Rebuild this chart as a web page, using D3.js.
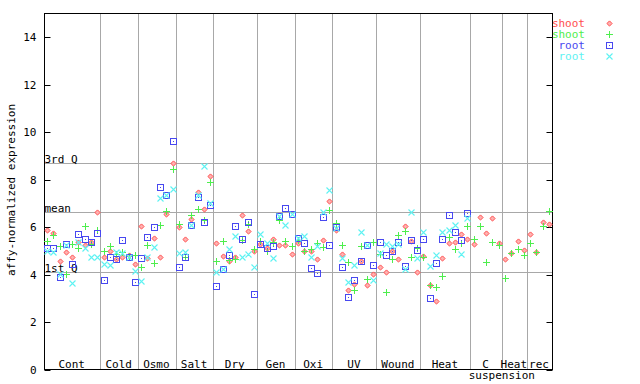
<!DOCTYPE html>
<html><head><meta charset="utf-8">
<script src="https://cdn.jsdelivr.net/npm/d3@7"></script>
<style>
body{margin:0;background:#fff;}
svg{display:block;}
text{font-family:"DejaVu Sans Mono",monospace;font-size:11px;}
</style>
</head><body>
<svg id="c" width="640" height="384"></svg>
<script>
// ---------- data ----------
const groups     = ["Cont","Cold","Osmo","Salt","Dry","Gen","Oxi","UV","Wound","Heat","C","Heat","rec"];
const groupSizes = [9,6,6,6,7,6,6,7,7,8,5,4,4];
const subLabels  = [{afterGroup:10, text:"suspension"}];

const shootA = [ // red
  5.87,5.74,4.59,4.96,4.73,5.36,5.24,5.36,6.63,
  4.73,4.98,4.65,4.73,4.82,4.44,
  6.04,4.69,5.53,4.73,6.55,8.70,
  6.00,5.49,6.34,7.50,6.76,8.15,
  5.32,4.77,4.56,4.73,6.51,5.83,4.98,
  5.28,5.11,5.49,5.24,5.24,4.86,
  5.32,4.98,4.98,4.65,5.45,7.10,
  5.87,4.86,3.34,3.59,4.56,3.55,4.01,
  4.31,4.10,4.98,4.65,6.04,5.41,4.10,
  4.80,3.55,2.87,4.69,5.32,5.36,5.70,5.49,
  5.28,6.42,5.74,6.38,5.32,
  4.65,4.90,5.41,5.03,
  5.70,4.94,6.21,6.13];
const shootB = [ // green
  5.41,5.65,5.20,4.01,5.28,5.12,6.03,5.28,5.88,
  4.98,5.20,4.86,4.94,4.77,4.82,
  4.31,5.24,4.48,6.10,6.68,8.45,
  6.13,4.75,6.52,6.76,6.30,7.90,
  4.56,5.41,4.62,4.65,5.45,6.15,5.07,
  5.41,4.98,5.36,6.30,5.41,5.20,
  5.45,4.98,5.07,5.32,5.15,6.72,
  6.17,5.24,4.52,3.34,5.20,3.80,5.36,
  4.86,3.25,4.65,5.66,5.83,4.73,5.11,
  4.73,3.55,3.46,3.93,5.59,5.07,5.32,6.04,
  5.49,6.04,4.52,5.36,5.24,
  3.84,4.90,5.07,4.82,
  5.32,4.94,6.04,6.68];
const rootA = [ // blue
  5.11,5.11,3.89,5.27,4.44,5.70,5.49,5.36,5.74,
  3.76,4.73,4.65,5.45,4.73,3.68,
  4.69,5.58,6.00,7.69,7.36,9.63,
  4.31,4.73,6.08,7.27,6.21,6.94,
  3.51,4.25,4.82,6.04,5.49,6.21,3.17,
  5.28,5.11,5.20,6.46,6.80,6.55,
  5.53,5.32,4.27,4.06,6.42,5.24,
  6.00,4.31,3.04,3.76,4.56,5.24,4.39,
  5.36,4.82,4.98,5.36,4.35,5.45,5.03,
  5.49,3.00,4.48,5.49,6.51,5.79,5.45,6.59,
  null,null,null,null,null,
  null,null,null,null,
  null,null,null,null];
const rootB = [ // cyan
  4.98,4.94,4.01,5.25,3.63,5.36,5.11,4.73,4.73,
  4.44,4.39,4.94,4.90,4.73,4.14,
  3.72,4.73,5.15,7.22,7.36,7.60,
  4.90,4.94,6.10,7.35,8.59,7.01,
  4.10,4.25,5.07,5.62,4.73,4.86,4.31,
  5.70,5.32,4.69,6.46,6.08,6.55,
  5.55,5.62,4.73,5.20,6.63,7.56,
  5.95,4.69,3.68,4.39,5.79,5.24,3.76,
  4.90,5.28,5.20,5.30,4.22,6.63,4.69,
  5.79,4.35,4.82,5.79,5.87,6.08,4.86,6.38,
  null,null,null,null,null,
  null,null,null,null,
  null,null,null,null];

const seriesNames  = ["shoot","shoot","root","root"];
const seriesColors = ["#ff4e4e","#4eee4e","#4848f0","#5ef2f2"];
const seriesShapes = ["diamond","plus","square","cross"];
const refLines = [{label:"3rd Q", value:8.70},{label:"mean", value:6.63},{label:"1st Q", value:4.10}];
const yTicks = [0,2,4,6,8,10,12,14];
const yTitle = "affy-normalized expression";

// ---------- drawing ----------
const svg = d3.select("#c");
const L=44, R=552, T=13.5, B=369.5;
const nSamples = d3.sum(groupSizes);
const x = d3.scaleBand().domain(d3.range(nSamples)).range([L,R]).paddingInner(0).paddingOuter(0);
const y = d3.scaleLinear().domain([0,15]).range([B,T]);
const px = v => Math.round(v)+0.5;
const grid = "#a8a8a8";

const starts = [];
{let s=0; groupSizes.forEach(n=>{starts.push(s); s+=n;});}

// vertical separators
svg.append("g").selectAll("line").data(starts.slice(1)).join("line")
  .attr("x1",d=>px(x(d))).attr("x2",d=>px(x(d)))
  .attr("y1",T).attr("y2",B).attr("stroke",grid).attr("stroke-width",1);

// reference lines
const rl = svg.append("g");
rl.selectAll("line").data(refLines).join("line")
  .attr("x1",L).attr("x2",R).attr("y1",d=>px(y(d.value))).attr("y2",d=>px(y(d.value)))
  .attr("stroke",grid).attr("stroke-width",1);
rl.selectAll("text").data(refLines).join("text")
  .attr("x",L+0.5).attr("y",d=>Math.round(y(d.value))-0.5).attr("fill","#000").text(d=>d.label);

// frame
svg.append("rect").attr("x",L+0.5).attr("y",T).attr("width",R-L).attr("height",B-T)
  .attr("fill","none").attr("stroke","#000").attr("stroke-width",1);

// axes
const ax = svg.append("g").attr("transform",`translate(${L+0.5},0)`)
  .call(d3.axisLeft(y).tickValues(yTicks).tickSizeInner(-6).tickSizeOuter(0).tickPadding(8));
ax.select(".domain").remove();
ax.selectAll("text").attr("font-family",'"DejaVu Sans Mono",monospace').attr("font-size","11.3px").attr("fill","#000");
ax.selectAll("line").attr("stroke","#000");
ax.selectAll(".tick").attr("transform",d=>`translate(0,${px(y(d))})`);
const axr = svg.append("g").attr("transform",`translate(${R+0.5},0)`)
  .call(d3.axisRight(y).tickValues(yTicks).tickSizeInner(-6).tickSizeOuter(0).tickFormat(""));
axr.select(".domain").remove();
axr.selectAll("line").attr("stroke","#000");
axr.selectAll(".tick").attr("transform",d=>`translate(0,${px(y(d))})`);

// y title
svg.append("text").attr("transform",`translate(15,${190}) rotate(-90)`)
  .attr("text-anchor","middle").attr("fill","#000").text(yTitle);

// group labels
svg.append("g").selectAll("text").data(groups).join("text")
  .attr("x",(d,i)=>(x(starts[i]) + x(starts[i]) + groupSizes[i]*x.bandwidth())/2 - 0.5)
  .attr("y",367.5).attr("text-anchor","middle").attr("fill","#000").text(d=>d);
svg.append("g").selectAll("text").data(subLabels).join("text")
  .attr("x",d=>x(starts[d.afterGroup]+groupSizes[d.afterGroup]) )
  .attr("y",379).attr("text-anchor","middle").attr("fill","#000").text(d=>d.text);

// markers
function drawMarker(g, shape, color){
  if(shape==="diamond"){
    g.append("path").attr("d","M0,-2.6L2.6,0L0,2.6L-2.6,0Z")
      .attr("fill","#ffb0b0").attr("stroke",color).attr("stroke-width",1);
  } else if(shape==="plus"){
    g.append("path").attr("d","M-3.5,0H3.5M0,-3.5V3.5").attr("stroke",color)
      .attr("stroke-width",1).attr("shape-rendering","crispEdges");
  } else if(shape==="square"){
    g.append("rect").attr("x",-3).attr("y",-3).attr("width",6).attr("height",6)
      .attr("fill","none").attr("stroke",color).attr("stroke-width",1).attr("shape-rendering","crispEdges");
    g.append("rect").attr("x",-0.5).attr("y",-0.5).attr("width",1).attr("height",1).attr("fill",color);
  } else {
    g.append("path").attr("d","M-3,-3L3,3M-3,3L3,-3").attr("stroke",color).attr("stroke-width",1.1);
  }
}
const allSeries = [shootA, shootB, rootA, rootB];
allSeries.forEach((vals,si)=>{
  const gs = svg.append("g");
  vals.forEach((v,i)=>{
    if(v==null) return;
    const cx = px(x(i)+x.bandwidth()/2), cy = px(y(v));
    const g = gs.append("g").attr("transform",`translate(${cx},${cy})`);
    drawMarker(g, seriesShapes[si], seriesColors[si]);
  });
});

// legend
const lg = svg.append("g");
seriesNames.forEach((n,i)=>{
  lg.append("text").attr("x",585).attr("y",26.5+i*11).attr("text-anchor","end")
    .attr("fill",seriesColors[i]).text(n);
  const g = lg.append("g").attr("transform",`translate(609.5,${23.5+i*11})`);
  drawMarker(g, seriesShapes[i], seriesColors[i]);
});
</script>
</body></html>
